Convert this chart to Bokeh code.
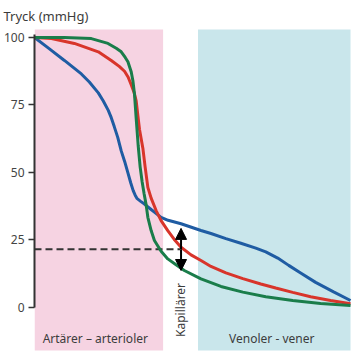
from bokeh.plotting import figure
from bokeh.models import Range1d, Label, Arrow, NormalHead, FixedTicker
from bokeh.embed import file_html
from bokeh.resources import INLINE

# ---- data (x = position along the vessel tree, y = pressure in mmHg) ----
y_ticks = [0, 25, 50, 75, 100]

blue_x = [0, 15, 30, 47, 55, 64, 69, 74, 77, 80, 83.5, 87, 90.5, 94, 96.5, 99, 101, 103, 106.5, 110, 117, 127, 134, 147, 167, 177, 192, 207, 222, 232, 244, 255, 267, 282, 300, 317]
blue_y = [100, 95.8, 91.5, 86.5, 83.5, 79.5, 76.5, 73, 70.3, 67, 63, 58, 54, 49.5, 46.2, 43.3, 41.6, 40.3, 39.3, 38.4, 36.3, 33.4, 32.3, 31, 28.5, 27.4, 25.5, 23.8, 22, 20.6, 18.3, 15.6, 12.8, 9.3, 5.8, 2.6]

red_x = [0, 17, 40, 64, 77, 85, 90.3, 94, 97, 100, 102, 103.7, 105.3, 107, 108.7, 111, 113.7, 117, 122, 127, 133.7, 140, 147, 157, 167, 177, 192, 209, 227, 242, 259, 277, 297, 317]
red_y = [100, 99.6, 97.8, 94.7, 91.5, 89.3, 87.5, 85.3, 82.5, 79.5, 76.5, 71, 66, 62.5, 59, 52, 44.5, 40.5, 35.9, 32.2, 28.5, 25.3, 22.3, 19.5, 17.4, 15.2, 12.8, 10.7, 8.7, 7.2, 5.6, 4, 2.6, 1.4]

green_x = [0, 30, 57, 73.7, 82, 87, 91, 93.7, 97, 98.7, 100.3, 102, 104, 106, 108, 110, 112, 113.7, 117, 120.3, 127, 133.7, 142, 150.3, 167, 187, 209, 232, 259, 287, 317]
green_y = [100, 100, 99.6, 97.8, 96, 94.7, 92.6, 91, 87.3, 84, 79, 70, 60, 52, 46.5, 42, 38, 33.4, 28.5, 24.8, 20.8, 18, 15.8, 13.7, 10.6, 7.8, 5.7, 4, 2.6, 1.5, 0.7]

region_left = [0, 164]
region_right = [129, 317]
region_bottom = -15.9
region_colors = ["#f6d3e2", "#c9e6eb"]

dashed_x = [0, 146]
dashed_y = [21.6, 21.6]
arrow_x = 147
arrow_mid = 21.6
arrow_top = 29.3
arrow_bottom = 13.7

Y0, Y1 = -18.52, 102.96

p = figure(width=355, height=357, output_backend="svg", toolbar_location=None,
           title="Tryck (mmHg)",
           x_range=Range1d(0, 322), y_range=Range1d(Y0, Y1),
           x_axis_location=None, y_axis_location="left",
           min_border_left=33, min_border_right=0, min_border_top=29, min_border_bottom=0,
           outline_line_color=None, background_fill_color="white", border_fill_color="white")
p.grid.visible = False

p.title.align = "left"
p.title.offset = -31
p.title.standoff = 9
p.title.text_font = "Noto Sans"
p.title.text_font_size = "13px"
p.title.text_font_style = "normal"
p.title.text_color = "#3c3c3c"

p.quad(left=region_left, right=region_right, bottom=[region_bottom] * 2, top=[Y1 + 5] * 2,
       fill_color=region_colors, line_color=None)

ax = p.yaxis[0]
ax.ticker = FixedTicker(ticks=y_ticks)
ax.bounds = (0, 101)
ax.axis_line_color = "#333333"
ax.axis_line_width = 2
ax.major_tick_line_color = "#333333"
ax.major_tick_line_width = 1.5
ax.major_tick_out = 6
ax.major_tick_in = 0
ax.minor_tick_line_color = None
ax.major_label_standoff = 4
ax.major_label_text_font = "Noto Sans"
ax.major_label_text_font_size = "12px"
ax.major_label_text_color = "#444444"

p.line(dashed_x, dashed_y, line_color="#333333", line_width=2, line_dash="7 4")

p.line(blue_x, blue_y, line_color="#1f5ca3", line_width=3)
p.line(red_x, red_y, line_color="#d8352b", line_width=3)
p.line(green_x, green_y, line_color="#1a7d4a", line_width=3)

p.add_layout(Arrow(x_start=arrow_x, y_start=arrow_mid, x_end=arrow_x, y_end=arrow_top,
                   line_color="black", line_width=2,
                   end=NormalHead(size=11, fill_color="black", line_color="black")))
p.add_layout(Arrow(x_start=arrow_x, y_start=arrow_mid, x_end=arrow_x, y_end=arrow_bottom,
                   line_color="black", line_width=2,
                   end=NormalHead(size=11, fill_color="black", line_color="black")))

txt = dict(text_font="Noto Sans", text_font_size="12px", text_color="#3c3c3c")
p.add_layout(Label(x=61, y=-11.5, text="Artärer – arterioler", text_align="center",
                   text_baseline="middle", **txt))
p.add_layout(Label(x=238, y=-11.5, text="Venoler - vener", text_align="center",
                   text_baseline="middle", **txt))
p.add_layout(Label(x=146.5, y=-0.9, text="Kapillärer", text_align="center",
                   text_baseline="middle", angle=1.5707963, **txt))

open("out.html", "w").write(file_html(p, INLINE))
